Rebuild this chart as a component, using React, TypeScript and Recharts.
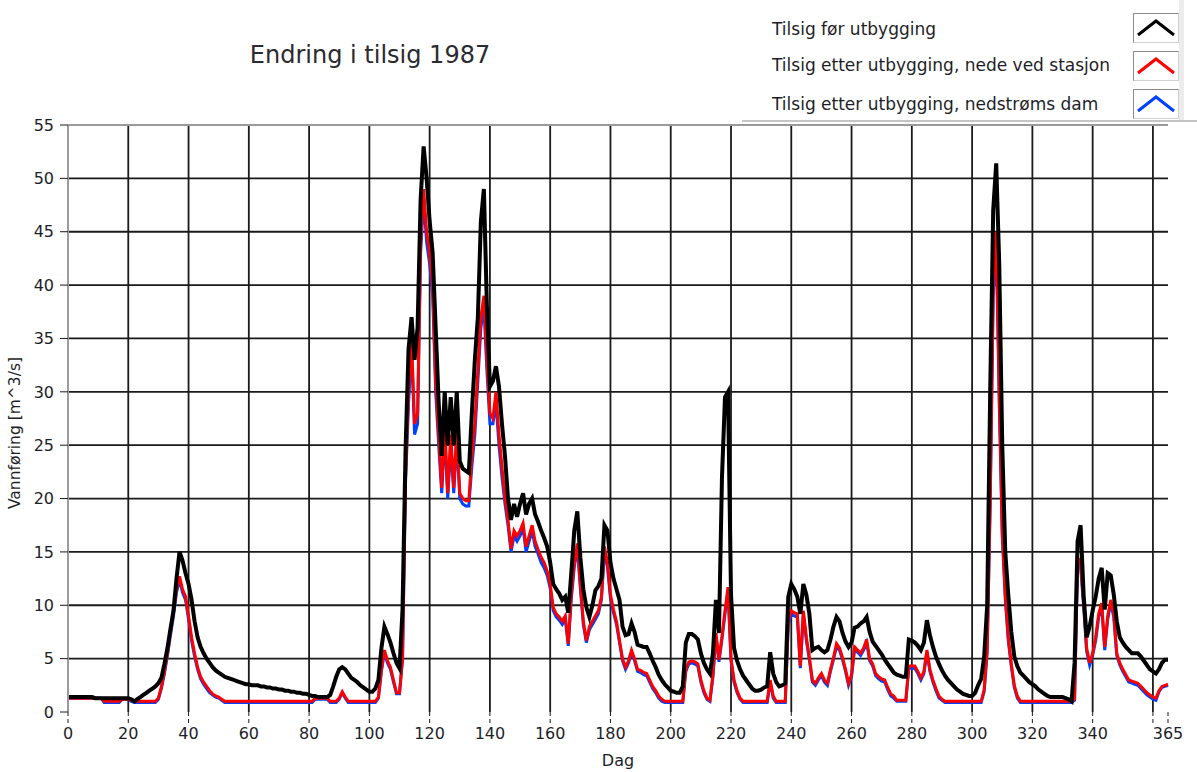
import React from "react";
import { LineChart, Line, XAxis, YAxis, CartesianGrid, ReferenceLine } from "recharts";

const title = "Endring i tilsig 1987";
const xLabel = "Dag";
const yLabel = "Vannføring [m^3/s]";

const xTicks = [0, 20, 40, 60, 80, 100, 120, 140, 160, 180, 200, 220, 240, 260, 280, 300, 320, 340, 360, 365];
const yTicks = [0, 5, 10, 15, 20, 25, 30, 35, 40, 45, 50, 55];
const gridX = [20, 40, 60, 80, 100, 120, 140, 160, 180, 200, 220, 240, 260, 280, 300, 320, 340, 360];
const gridY = [5, 10, 15, 20, 25, 30, 35, 40, 45, 50];

const seriesNames = [
  "Tilsig før utbygging",
  "Tilsig etter utbygging, nede ved stasjon",
  "Tilsig etter utbygging, nedstrøms dam",
];
const seriesColors = ["#000000", "#ff0000", "#0040ff"];

// daily values, day 0..365
const beforeDev = [
  1.4, 1.4, 1.4, 1.4, 1.4, 1.4, 1.4, 1.4, 1.4, 1.3,
  1.3, 1.3, 1.3, 1.3, 1.3, 1.3, 1.3, 1.3, 1.3, 1.3,
  1.3, 1.2, 1.0, 1.2, 1.4, 1.6, 1.8, 2.0, 2.2, 2.4,
  2.7, 3.2, 4.5, 6.0, 7.8, 9.5, 12.5, 15.0, 14.2, 13.0,
  12.0, 10.5, 8.5, 7.0, 6.1, 5.5, 5.0, 4.6, 4.2, 3.9,
  3.7, 3.5, 3.3, 3.2, 3.1, 3.0, 2.9, 2.8, 2.7, 2.6,
  2.6, 2.5, 2.5, 2.5, 2.4, 2.4, 2.3, 2.3, 2.2, 2.2,
  2.1, 2.1, 2.0, 2.0, 1.9, 1.9, 1.8, 1.8, 1.7, 1.7,
  1.6, 1.5, 1.5, 1.4, 1.4, 1.4, 1.4, 1.6, 2.4, 3.3,
  4.0, 4.2, 4.0, 3.6, 3.2, 3.0, 2.8, 2.5, 2.3, 2.1,
  1.9, 1.9, 2.2, 3.0, 6.0, 8.0, 7.3, 6.5, 5.5, 4.6,
  4.1, 9.6, 24.5, 34.0, 37.0, 33.0, 36.0, 48.0, 53.0, 50.0,
  46.0, 43.0, 36.0, 29.0, 24.0, 30.0, 25.0, 29.5, 25.0, 30.0,
  23.5, 22.8, 22.6, 22.4, 28.0, 33.0, 37.0, 46.0, 49.0, 38.0,
  30.5, 31.0, 32.4, 30.5, 27.0, 24.0, 20.0, 18.0, 19.5, 18.3,
  19.5, 20.5, 18.5, 19.5, 20.0, 18.5, 17.8, 17.0, 16.3, 15.5,
  14.0, 12.0, 11.5, 11.1, 10.5, 10.8, 9.3, 13.0, 17.0, 18.8,
  14.5, 11.5, 9.8, 8.9, 10.0, 11.4, 11.8, 12.5, 17.5, 17.0,
  14.0, 12.5, 11.5, 10.5, 8.0, 7.2, 7.3, 8.3, 7.5, 6.3,
  6.2, 6.1, 6.1, 5.5, 4.8, 4.2, 3.5, 3.0, 2.6, 2.3,
  2.0, 1.9, 1.8, 1.8, 2.4, 6.5, 7.3, 7.3, 7.1, 6.8,
  5.5, 4.6, 4.0, 3.6, 5.5, 10.5, 7.4, 22.0, 29.5, 30.0,
  11.0, 6.0, 4.8, 4.0, 3.4, 3.0, 2.6, 2.2, 2.0, 2.0,
  2.1, 2.3, 2.4, 5.6, 3.6, 2.8, 2.4, 2.5, 2.7, 10.8,
  12.0, 11.5, 10.8, 9.2, 12.0, 11.0, 9.2, 5.8, 6.0, 6.1,
  5.8, 5.6, 5.8, 6.8, 8.0, 8.9, 8.5, 7.4, 6.6, 6.1,
  6.5, 7.9, 8.0, 8.3, 8.5, 8.9, 7.5, 6.6, 6.2, 5.8,
  5.4, 4.9, 4.5, 4.1, 3.7, 3.5, 3.4, 3.3, 3.3, 6.8,
  6.7, 6.5, 6.2, 5.8, 6.5, 8.6, 7.2, 6.1, 5.2, 4.5,
  3.9, 3.4, 3.0, 2.7, 2.4, 2.1, 1.9, 1.7, 1.6, 1.5,
  1.5, 1.8, 2.5, 3.1, 5.2, 10.0, 30.0, 47.0, 51.4, 42.0,
  25.0, 15.0, 11.0, 7.5, 5.2, 4.3, 3.7, 3.4, 3.1, 2.8,
  2.6, 2.4, 2.1, 1.9, 1.7, 1.5, 1.4, 1.4, 1.4, 1.4,
  1.4, 1.3, 1.2, 1.0, 4.6, 16.0, 17.5, 11.0, 7.0, 8.0,
  9.5, 10.8, 12.5, 13.5, 9.6, 13.0, 12.8, 11.0, 8.5, 7.0,
  6.5, 6.1, 5.8, 5.5, 5.5, 5.5, 5.2, 4.8, 4.4, 4.0,
  3.8, 3.6, 4.0, 4.6, 4.9, 4.9,
];

const afterStation = [
  1.3, 1.3, 1.3, 1.3, 1.3, 1.3, 1.3, 1.3, 1.3, 1.3,
  1.3, 1.3, 1.0, 1.0, 1.0, 1.0, 1.0, 1.0, 1.2, 1.2,
  1.2, 1.1, 1.0, 1.0, 1.0, 1.0, 1.0, 1.0, 1.0, 1.0,
  1.3, 2.4, 3.8, 5.5, 7.5, 9.3, 11.5, 12.7, 11.5, 10.8,
  9.0, 7.0, 5.5, 4.2, 3.3, 2.8, 2.4, 2.0, 1.7, 1.5,
  1.4, 1.2, 1.0, 1.0, 1.0, 1.0, 1.0, 1.0, 1.0, 1.0,
  1.0, 1.0, 1.0, 1.0, 1.0, 1.0, 1.0, 1.0, 1.0, 1.0,
  1.0, 1.0, 1.0, 1.0, 1.0, 1.0, 1.0, 1.0, 1.0, 1.0,
  1.0, 1.0, 1.3, 1.3, 1.3, 1.3, 1.3, 1.0, 1.0, 1.0,
  1.3, 1.9, 1.4, 1.0, 1.0, 1.0, 1.0, 1.0, 1.0, 1.0,
  1.0, 1.0, 1.0, 1.4, 4.0, 5.8, 4.8, 4.2, 3.0, 1.8,
  1.8, 5.1, 22.0, 30.0, 35.0, 27.0, 28.0, 44.0, 49.0, 45.0,
  43.0, 40.0, 31.0, 26.0, 21.0, 27.0, 20.5, 26.0, 21.0, 26.5,
  20.5, 20.0, 19.8, 19.8, 24.0, 27.0, 32.0, 37.0, 39.0, 33.0,
  28.0, 27.5, 30.0, 26.0, 23.0, 20.0, 18.0, 15.3, 17.0, 16.5,
  17.0, 17.7, 15.5, 16.5, 17.5, 16.0, 15.2, 14.5, 14.0, 13.2,
  12.0, 9.8, 9.2, 8.9, 8.5, 9.0, 6.4, 11.0, 14.0, 15.8,
  12.0, 8.5, 6.7, 8.0, 8.5, 9.0, 9.5, 10.8, 15.5, 14.0,
  11.0, 9.6, 8.5, 6.7, 5.0, 4.2, 4.8, 5.8, 5.0, 4.0,
  3.9, 3.7, 3.6, 3.0, 2.4, 2.0, 1.5, 1.2, 1.0, 1.0,
  1.0, 1.0, 1.0, 1.0, 1.0, 4.0, 4.7, 4.8, 4.7, 4.5,
  3.0, 2.0, 1.3, 1.1, 3.5, 7.4, 4.9, 7.1, 9.5, 11.7,
  5.0, 3.0, 2.0, 1.3, 1.0, 1.0, 1.0, 1.0, 1.0, 1.0,
  1.0, 1.0, 1.0, 3.0, 1.5, 1.0, 1.0, 1.0, 1.0, 8.5,
  9.5, 9.3, 9.2, 4.3, 9.5, 7.0, 5.1, 3.0, 2.7, 3.2,
  3.6, 3.0, 2.7, 4.0, 5.1, 6.4, 6.0, 5.1, 4.0, 2.7,
  3.5, 6.1, 5.8, 5.5, 6.0, 6.8, 5.0, 4.5, 3.6, 3.3,
  3.1, 3.0, 2.3, 1.7, 1.5, 1.1, 1.1, 1.1, 1.1, 4.3,
  4.3, 4.3, 3.8, 3.2, 3.8, 5.8, 4.0, 3.0, 2.2, 1.5,
  1.2, 1.0, 1.0, 1.0, 1.0, 1.0, 1.0, 1.0, 1.0, 1.0,
  1.0, 1.0, 1.0, 1.0, 2.1, 5.9, 20.0, 40.0, 45.0, 30.0,
  17.0, 11.0, 7.0, 4.5, 2.5, 1.5, 1.0, 1.0, 1.0, 1.0,
  1.0, 1.0, 1.0, 1.0, 1.0, 1.0, 1.0, 1.0, 1.0, 1.0,
  1.0, 1.0, 1.0, 1.0, 1.2, 14.5, 14.0, 10.3, 6.0, 4.6,
  5.5, 7.0, 9.2, 10.2, 6.1, 9.0, 10.5, 9.2, 5.5, 4.6,
  4.0, 3.5, 3.0, 2.9, 2.8, 2.7, 2.4, 2.1, 1.8, 1.6,
  1.4, 1.3, 2.0, 2.4, 2.5, 2.6,
];

const afterDam = [
  1.3, 1.3, 1.3, 1.3, 1.3, 1.3, 1.3, 1.3, 1.3, 1.3,
  1.3, 1.3, 0.9, 0.9, 0.9, 0.9, 0.9, 0.9, 1.2, 1.2,
  1.2, 1.0, 0.9, 0.9, 0.9, 0.9, 0.9, 0.9, 0.9, 0.9,
  1.2, 2.2, 3.6, 5.3, 7.2, 9.0, 11.2, 12.4, 11.2, 10.5,
  8.7, 6.7, 5.2, 4.0, 3.1, 2.6, 2.2, 1.8, 1.6, 1.4,
  1.3, 1.1, 0.9, 0.9, 0.9, 0.9, 0.9, 0.9, 0.9, 0.9,
  0.9, 0.9, 0.9, 0.9, 0.9, 0.9, 0.9, 0.9, 0.9, 0.9,
  0.9, 0.9, 0.9, 0.9, 0.9, 0.9, 0.9, 0.9, 0.9, 0.9,
  0.9, 0.9, 1.2, 1.2, 1.2, 1.2, 1.2, 0.9, 0.9, 0.9,
  1.2, 1.8, 1.3, 0.9, 0.9, 0.9, 0.9, 0.9, 0.9, 0.9,
  0.9, 0.9, 0.9, 1.3, 3.8, 5.6, 4.6, 4.0, 2.8, 1.7,
  1.7, 4.9, 21.5, 29.0, 34.0, 26.0, 27.0, 43.0, 48.0, 44.0,
  42.0, 39.0, 30.0, 25.0, 20.5, 26.0, 20.0, 25.0, 20.5, 25.5,
  20.0, 19.5, 19.3, 19.3, 23.0, 26.0, 31.0, 36.0, 38.0, 32.0,
  27.0, 27.0, 29.0, 25.0, 22.0, 19.5, 17.5, 15.0, 16.5, 16.0,
  16.5, 17.2, 15.0, 16.0, 17.0, 15.5, 14.8, 14.0, 13.5, 12.8,
  11.6, 9.5, 8.9, 8.6, 8.2, 8.7, 6.2, 10.6, 13.6, 15.4,
  11.6, 8.2, 6.5, 7.7, 8.2, 8.7, 9.2, 10.5, 15.0, 13.6,
  10.6, 9.3, 8.2, 6.5, 4.8, 4.0, 4.6, 5.6, 4.8, 3.8,
  3.7, 3.5, 3.4, 2.8, 2.2, 1.8, 1.3, 1.0, 0.9, 0.9,
  0.9, 0.9, 0.9, 0.9, 0.9, 3.8, 4.5, 4.6, 4.5, 4.3,
  2.8, 1.8, 1.2, 1.0, 3.3, 7.1, 4.7, 6.8, 9.2, 11.3,
  4.8, 2.8, 1.8, 1.2, 0.9, 0.9, 0.9, 0.9, 0.9, 0.9,
  0.9, 0.9, 0.9, 2.8, 1.3, 0.9, 0.9, 0.9, 0.9, 8.2,
  9.2, 9.0, 8.9, 4.1, 9.2, 6.7, 4.9, 2.8, 2.5, 3.0,
  3.4, 2.8, 2.5, 3.8, 4.9, 6.1, 5.8, 4.9, 3.8, 2.5,
  3.3, 5.9, 5.6, 5.3, 5.8, 6.5, 4.8, 4.3, 3.4, 3.1,
  2.9, 2.8, 2.1, 1.5, 1.3, 1.0, 1.0, 1.0, 1.0, 4.1,
  4.1, 4.1, 3.6, 3.0, 3.6, 5.6, 3.8, 2.8, 2.0, 1.3,
  1.1, 0.9, 0.9, 0.9, 0.9, 0.9, 0.9, 0.9, 0.9, 0.9,
  0.9, 0.9, 0.9, 0.9, 1.9, 5.6, 19.5, 39.0, 44.0, 29.0,
  16.5, 10.6, 6.7, 4.3, 2.3, 1.3, 0.9, 0.9, 0.9, 0.9,
  0.9, 0.9, 0.9, 0.9, 0.9, 0.9, 0.9, 0.9, 0.9, 0.9,
  0.9, 0.9, 0.9, 0.9, 1.1, 14.0, 13.6, 9.9, 5.7, 4.4,
  5.3, 6.7, 8.9, 9.9, 5.8, 8.7, 10.2, 8.9, 5.3, 4.4,
  3.8, 3.3, 2.8, 2.7, 2.6, 2.5, 2.2, 1.9, 1.6, 1.4,
  1.2, 1.1, 1.9, 2.3, 2.4, 2.5,
];

const data = beforeDev.map((v, day) => ({
  day,
  before: v,
  station: afterStation[day],
  dam: afterDam[day],
}));

const FONT = "'DejaVu Sans', Verdana, sans-serif";
const TEXT = "#1e1e28";

const XTick = (props: any) => {
  const { x, y, payload } = props;
  if (payload.value === 360) return <g />;
  return (
    <text x={x} y={y} dy="0.75em" textAnchor="middle" fontSize={16} fontFamily={FONT} fill={TEXT}>
      {payload.value}
    </text>
  );
};

const YTick = (props: any) => {
  const { x, y, payload } = props;
  return (
    <text x={x} y={y} dy="0.36em" textAnchor="end" fontSize={16} fontFamily={FONT} fill={TEXT}>
      {payload.value}
    </text>
  );
};

const LegendBox = () => (
  <div
    style={{
      position: "absolute",
      left: 742,
      top: 0,
      width: 455,
      height: 120,
      background: "#fff",
      borderBottom: "2px solid #c4c4c4",
      fontFamily: FONT,
      fontSize: 17,
      color: TEXT,
    }}
  >
    {seriesNames.map((name, i) => (
      <div
        key={name}
        style={{ position: "absolute", left: 30, top: [18, 54, 93][i], lineHeight: "22px", whiteSpace: "nowrap" }}
      >
        {name}
      </div>
    ))}
    {seriesColors.map((c, i) => (
      <svg
        key={c}
        width={46}
        height={30}
        style={{ position: "absolute", left: 391, top: [13, 51, 89][i] }}
      >
        <rect x={0.5} y={0.5} width={45} height={29} fill="#fff" stroke="#d0d0d0" />
        <line x1={0.5} y1={0.5} x2={45.5} y2={0.5} stroke="#8a8a8a" />
        <line x1={0.5} y1={0.5} x2={0.5} y2={29.5} stroke="#8a8a8a" />
        <polyline points="5,22 23,8 41,22" fill="none" stroke={c} strokeWidth={3} />
      </svg>
    ))}
    <div style={{ position: "absolute", left: 437, top: 0, width: 5, height: 120, background: "#ececec" }} />
  </div>
);

export default function App() {
  return (
    <div style={{ position: "absolute", left: 0, top: 0, width: 1197, height: 772, background: "#fff", overflow: "hidden" }}>
      <div
        style={{
          position: "absolute",
          left: 170,
          width: 400,
          top: 41,
          textAlign: "center",
          fontFamily: FONT,
          fontSize: 24,
          color: "#2a2a30",
        }}
      >
        {title}
      </div>
      <LineChart width={1197} height={772} data={data} margin={{ top: 125, right: 29, bottom: 20, left: 0 }}>
        <CartesianGrid
          horizontalValues={gridY}
          verticalValues={gridX}
          stroke="#1a1a1a"
          strokeWidth={1.8}
        />
        <ReferenceLine y={55} stroke="#9a9a9a" strokeWidth={2} />
        <XAxis
          dataKey="day"
          type="number"
          domain={[0, 365]}
          ticks={xTicks}
          interval={0}
          height={40}
          axisLine={false}
          tickSize={11}
          tickMargin={4}
          tickLine={{ stroke: "#1a1a1a", strokeDasharray: "4 3" }}
          tick={<XTick />}
          label={(p: any) => (
            <text x={618} y={766} textAnchor="middle" fontSize={16} fontFamily={FONT} fill={TEXT}>
              {xLabel}
            </text>
          )}
        />
        <YAxis
          type="number"
          domain={[0, 55]}
          ticks={yTicks}
          interval={0}
          width={68}
          axisLine={{ stroke: "#9a9a9a", strokeWidth: 2 }}
          tickSize={8}
          tickMargin={6}
          tickLine={{ stroke: "#1a1a1a" }}
          tick={<YTick />}
          label={(p: any) => (
            <text
              x={20}
              y={433}
              transform="rotate(-90 20 433)"
              textAnchor="middle"
              fontSize={15.5}
              fontFamily={FONT}
              fill={TEXT}
            >
              {yLabel}
            </text>
          )}
        />
        <Line
          type="linear"
          dataKey="dam"
          name={seriesNames[2]}
          stroke={seriesColors[2]}
          strokeWidth={3}
          dot={false}
          isAnimationActive={false}
        />
        <Line
          type="linear"
          dataKey="station"
          name={seriesNames[1]}
          stroke={seriesColors[1]}
          strokeWidth={3}
          dot={false}
          isAnimationActive={false}
        />
        <Line
          type="linear"
          dataKey="before"
          name={seriesNames[0]}
          stroke={seriesColors[0]}
          strokeWidth={4}
          dot={false}
          isAnimationActive={false}
        />
      </LineChart>
      <LegendBox />
    </div>
  );
}
